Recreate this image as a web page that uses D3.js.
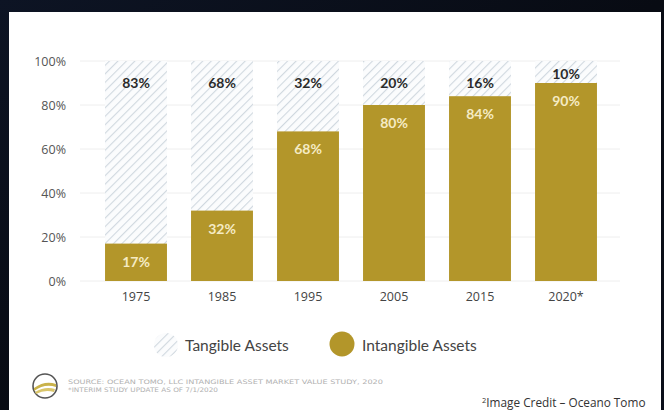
<!DOCTYPE html>
<html><head><meta charset="utf-8">
<script src="https://cdn.jsdelivr.net/npm/d3@7"></script>
<style>html,body{margin:0;padding:0;background:#0a0e18;}svg{display:block;}</style>
</head><body>
<script>
const years = ["1975","1985","1995","2005","2015","2020*"];
const tangible = [83,68,32,20,16,10];
const intangible = [17,32,68,80,84,90];
const yTicks = [0,20,40,60,80,100];
const legendLabels = ["Tangible Assets","Intangible Assets"];
const sourceLines = ["SOURCE:  OCEAN TOMO, LLC INTANGIBLE ASSET MARKET VALUE STUDY, 2020","*INTERIM STUDY UPDATE AS OF 7/1/2020"];
const creditText = "Image Credit \u2013 Oceano Tomo";

const W=664,H=410;
const gold="#b3962a";
const svg=d3.select("body").append("svg").attr("width",W).attr("height",H);
const defs=svg.append("defs");
const bg=defs.append("linearGradient").attr("id","bg").attr("x1",0).attr("x2",1).attr("y1",0).attr("y2",1);
bg.append("stop").attr("offset","0%").attr("stop-color","#0d1424");
bg.append("stop").attr("offset","50%").attr("stop-color","#080b13");
bg.append("stop").attr("offset","100%").attr("stop-color","#0b0f1a");
svg.append("rect").attr("width",W).attr("height",H).attr("fill","url(#bg)");
svg.append("rect").attr("x",9).attr("y",12).attr("width",652).attr("height",H-12).attr("fill","#fff");

const pat=defs.append("pattern").attr("id","hatch").attr("patternUnits","userSpaceOnUse")
  .attr("width",6).attr("height",6).attr("patternTransform","rotate(45)");
pat.append("rect").attr("width",6).attr("height",6).attr("fill","#fbfcfd");
pat.append("line").attr("x1",0).attr("y1",0).attr("x2",0).attr("y2",6).attr("stroke","#d0d8df").attr("stroke-width",2.2);

const x=d3.scaleBand().domain(years).range([93,609]).paddingInner(0.28).paddingOuter(0.14);
const y=d3.scaleLinear().domain([0,100]).range([281,61]);

// gridlines
svg.append("g").selectAll("line").data(yTicks).join("line")
  .attr("x1",80).attr("x2",620).attr("y1",d=>y(d)).attr("y2",d=>y(d))
  .attr("stroke","#eeeeee").attr("stroke-width",1);

// y axis labels
const yAxis=d3.axisLeft(y).tickValues(yTicks).tickFormat(d=>d+"%").tickSize(0).tickPadding(0);
const ya=svg.append("g").attr("transform","translate(66,0)").call(yAxis);
ya.select(".domain").remove();
ya.selectAll("text").attr("font-family","'Open Sans', sans-serif").attr("font-size",12.5).attr("fill","#555");

// tangible (hatched, full)
svg.append("g").selectAll("rect").data(years).join("rect")
  .attr("x",d=>x(d)).attr("width",x.bandwidth())
  .attr("y",y(100)).attr("height",y(0)-y(100)).attr("fill","url(#hatch)");
// intangible
svg.append("g").selectAll("rect").data(years).join("rect")
  .attr("x",d=>x(d)).attr("width",x.bandwidth())
  .attr("y",(d,i)=>y(intangible[i])).attr("height",(d,i)=>y(0)-y(intangible[i])).attr("fill",gold);

// labels
svg.append("g").selectAll("text").data(years).join("text")
  .attr("x",d=>x(d)+x.bandwidth()/2)
  .attr("y",(d,i)=>Math.min(y(100)+22,y(intangible[i])-9))
  .attr("dy","0.36em").attr("text-anchor","middle")
  .attr("font-family","Lato, sans-serif").attr("font-weight","bold").attr("font-size",14).attr("fill","#2b2b2b")
  .text((d,i)=>tangible[i]+"%");
svg.append("g").selectAll("text").data(years).join("text")
  .attr("x",d=>x(d)+x.bandwidth()/2)
  .attr("y",(d,i)=>y(intangible[i])+18)
  .attr("dy","0.36em").attr("text-anchor","middle")
  .attr("font-family","Lato, sans-serif").attr("font-weight","bold").attr("font-size",14).attr("fill","#f5ebc4")
  .text((d,i)=>intangible[i]+"%");

// x axis labels
const xAxis=d3.axisBottom(x).tickSize(0).tickPadding(0);
const xa=svg.append("g").attr("transform","translate(0,292)").call(xAxis);
xa.select(".domain").remove();
xa.selectAll("text").attr("font-family","'Open Sans', sans-serif").attr("font-size",12.5).attr("fill","#444");

// legend
const lg=svg.append("g");
lg.append("circle").attr("cx",166).attr("cy",345).attr("r",12).attr("fill","url(#hatch)");
lg.append("text").attr("x",185).attr("y",345).attr("dy","0.36em").attr("font-family","Lato, sans-serif")
  .attr("font-size",15.5).attr("fill","#444").text(legendLabels[0]);
lg.append("circle").attr("cx",342).attr("cy",344).attr("r",12.5).attr("fill",gold);
lg.append("text").attr("x",362).attr("y",345).attr("dy","0.36em").attr("font-family","Lato, sans-serif")
  .attr("font-size",15.5).attr("fill","#444").text(legendLabels[1]);

// logo
const logo=svg.append("g").attr("transform","translate(45,386)");
logo.append("circle").attr("r",12).attr("fill","#fff").attr("stroke","#555").attr("stroke-width",1.6);
logo.append("path").attr("d","M-11,2 Q0,-6 11,-2 L11,1 Q0,-3 -11,5 Z").attr("fill","#c9b24a");
logo.append("path").attr("d","M-10,6 Q0,0 10,3 L9,6 Q0,3 -9,8 Z").attr("fill","#d9c56a");

// source
const srcW=[315,150];
svg.append("g").selectAll("text").data(sourceLines).join("text")
  .attr("x",68).attr("y",(d,i)=>384+i*8)
  .attr("font-family","'DejaVu Sans', sans-serif").attr("font-size",6.2).attr("fill","#b0b0b0")
  .attr("textLength",(d,i)=>srcW[i]).attr("lengthAdjust","spacingAndGlyphs")
  .text(d=>d);

// credit
const ct=svg.append("text").attr("x",482).attr("y",407).attr("font-family","'Open Sans', sans-serif")
  .attr("font-size",11.8).attr("fill","#333");
ct.append("tspan").attr("font-size",7.5).attr("dy",-4).text("2");
ct.append("tspan").attr("dy",4).text(creditText);
</script>
</body></html>
